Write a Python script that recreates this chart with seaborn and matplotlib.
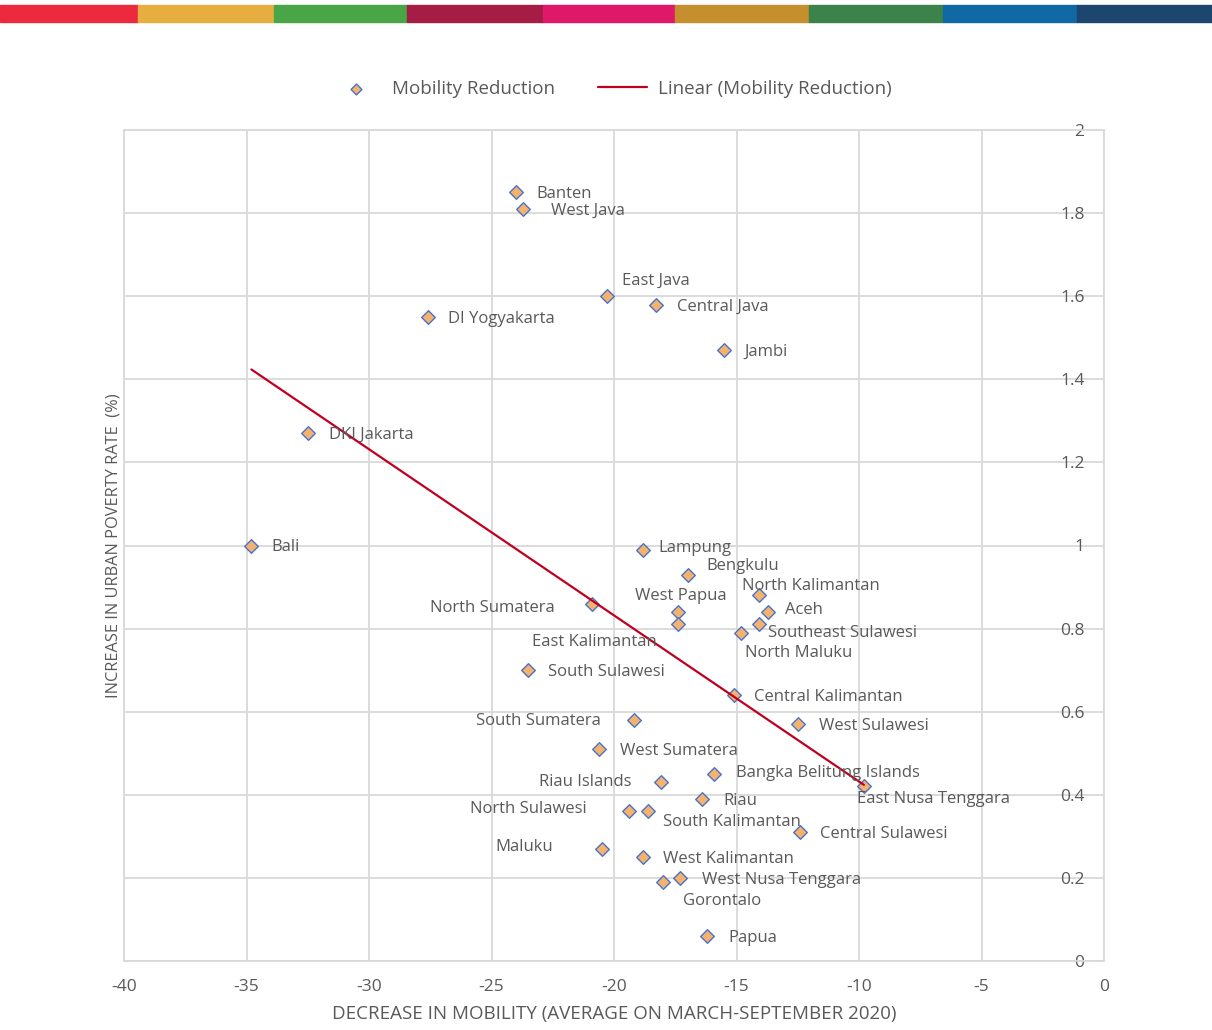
import numpy as np
import pandas as pd
import matplotlib
matplotlib.use("Agg")
import matplotlib.pyplot as plt
import seaborn as sns
from matplotlib.patches import Rectangle

sns.set_style("white")
plt.rcParams["font.family"] = ["Open Sans", "DejaVu Sans"]
plt.rcParams["axes.unicode_minus"] = False

provinces = ["Banten", "West Java", "East Java", "Central Java", "DI Yogyakarta", "Jambi",
             "DKI Jakarta", "Bali", "Lampung", "Bengkulu", "North Kalimantan", "North Sumatera",
             "West Papua", "Aceh", "East Kalimantan", "Southeast Sulawesi", "North Maluku",
             "South Sulawesi", "Central Kalimantan", "South Sumatera", "West Sulawesi",
             "West Sumatera", "Bangka Belitung Islands", "Riau Islands", "East Nusa Tenggara",
             "Riau", "North Sulawesi", "South Kalimantan", "Central Sulawesi", "Maluku",
             "West Kalimantan", "Gorontalo", "West Nusa Tenggara", "Papua"]
mobility = [-24.0, -23.7, -20.3, -18.3, -27.6, -15.5,
            -32.5, -34.8, -18.8, -17.0, -14.1, -20.9,
            -17.4, -13.7, -17.4, -14.1, -14.8,
            -23.5, -15.1, -19.2, -12.5,
            -20.6, -15.9, -18.1, -9.8,
            -16.4, -19.4, -18.6, -12.4, -20.5,
            -18.8, -18.0, -17.3, -16.2]
poverty = [1.85, 1.81, 1.60, 1.58, 1.55, 1.47,
           1.27, 1.00, 0.99, 0.93, 0.88, 0.86,
           0.84, 0.84, 0.81, 0.81, 0.79,
           0.70, 0.64, 0.58, 0.57,
           0.51, 0.45, 0.43, 0.42,
           0.39, 0.36, 0.36, 0.31, 0.27,
           0.25, 0.19, 0.20, 0.06]

df = pd.DataFrame({"province": provinces, "mobility": mobility, "poverty": poverty})

# label placement (pixel offsets from marker, alignment)
label_pos = {
    "Banten": (20, 0, "left"), "West Java": (28, 0, "left"), "East Java": (15, 17, "left"),
    "Central Java": (21, 0, "left"), "DI Yogyakarta": (20, 0, "left"), "Jambi": (20, 0, "left"),
    "DKI Jakarta": (21, 0, "left"), "Bali": (20, 0, "left"), "Lampung": (15, 4, "left"),
    "Bengkulu": (19, 11, "left"), "North Kalimantan": (-17, 11, "left"),
    "North Sumatera": (-37, -2, "right"), "West Papua": (3, 18, "center"),
    "Aceh": (17, 4, "left"), "East Kalimantan": (-21, -16, "right"),
    "Southeast Sulawesi": (9, -7, "left"), "North Maluku": (4, -18, "left"),
    "South Sulawesi": (20, 0, "left"), "Central Kalimantan": (20, 0, "left"),
    "South Sumatera": (-33, 1, "right"), "West Sulawesi": (21, 0, "left"),
    "West Sumatera": (21, 0, "left"), "Bangka Belitung Islands": (22, 3, "left"),
    "Riau Islands": (-29, 2, "right"), "East Nusa Tenggara": (-7, -11, "left"),
    "Riau": (21, 0, "left"), "North Sulawesi": (-42, 4, "right"),
    "South Kalimantan": (15, -9, "left"), "Central Sulawesi": (20, 0, "left"),
    "Maluku": (-49, 4, "right"), "West Kalimantan": (20, 0, "left"),
    "Gorontalo": (20, -17, "left"), "West Nusa Tenggara": (22, 0, "left"),
    "Papua": (21, 0, "left"),
}

bar_colors = ["#EB2A3E", "#E6AD40", "#48A646", "#A51C45", "#E0186A",
              "#C48F2C", "#3B834A", "#1069A4", "#1C466E"]
bar_edges = [0, 138, 274, 407, 543, 675, 809, 943, 1077, 1212]

text_col = "#595959"
grid_col = "#D9D9D9"

fig = plt.figure(figsize=(12.12, 10.30), dpi=100)
ax = fig.add_axes([124 / 1212, 1 - 961 / 1030, 980 / 1212, 831 / 1030])

# SDG colour strip at the top
for i, c in enumerate(bar_colors):
    fig.patches.append(Rectangle((bar_edges[i] / 1212, 1 - 22 / 1030),
                                 (bar_edges[i + 1] - bar_edges[i]) / 1212, 17 / 1030,
                                 transform=fig.transFigure, color=c, zorder=0))

sns.scatterplot(data=df, x="mobility", y="poverty", marker="D", s=48,
                color="#F4B26E", edgecolor="#4A73C6", linewidth=1.0,
                label="Mobility Reduction", ax=ax, zorder=3, legend=False)

slope, intercept = np.polyfit(df["mobility"], df["poverty"], 1)
xs = np.array([df["mobility"].min(), df["mobility"].max()])
sns.lineplot(x=xs, y=slope * xs + intercept, color="#C00020", linewidth=1.6,
             ax=ax, zorder=4, label="Linear (Mobility Reduction)", legend=False)

for _, r in df.iterrows():
    dx, dy, ha = label_pos[r["province"]]
    ax.annotate(r["province"], (r["mobility"], r["poverty"]),
                xytext=(dx * 0.72, (dy - 2) * 0.72), textcoords="offset points",
                ha=ha, va="center", fontsize=12, color=text_col, zorder=5)

ax.set_xlim(-40, 0)
ax.set_ylim(0, 2)
ax.set_xticks(np.arange(-40, 1, 5))
ax.set_yticks(np.arange(0, 2.01, 0.2))
ax.set_yticklabels([f"{v:g}" for v in np.round(np.arange(0, 2.01, 0.2), 1)])
ax.grid(True, color=grid_col, linewidth=1.3)
ax.set_axisbelow(True)
for s in ax.spines.values():
    s.set_color(grid_col)
    s.set_linewidth(1.3)

ax.yaxis.tick_right()
ax.tick_params(axis="y", length=0, pad=-14, labelsize=12.5, labelcolor=text_col)
for t in ax.get_yticklabels():
    t.set_horizontalalignment("right")
ax.tick_params(axis="x", length=0, pad=13, labelsize=12.5, labelcolor=text_col)

ax.set_xlabel("DECREASE IN MOBILITY (AVERAGE ON MARCH-SEPTEMBER 2020)",
              fontsize=13.5, color=text_col, labelpad=7)
ax.set_ylabel("INCREASE IN URBAN POVERTY RATE  (%)", fontsize=11.8, color=text_col, labelpad=2)

handles, labels = ax.get_legend_handles_labels()
fig.legend(handles, labels, loc="center", bbox_to_anchor=(0.505, 1 - 89 / 1030), ncol=2,
           frameon=False, fontsize=13.5, labelcolor=text_col, handlelength=2.6,
           handletextpad=0.6, columnspacing=2.3, markerscale=0.8)

fig.savefig("out.png", dpi=100)
